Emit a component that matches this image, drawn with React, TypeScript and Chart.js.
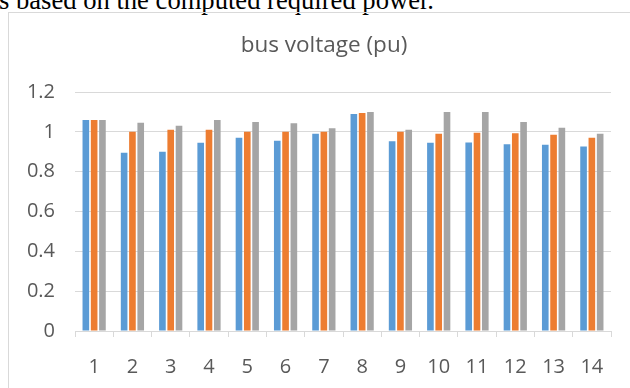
import React, { useEffect, useRef } from "react";
import { Chart, registerables } from "chart.js";

Chart.register(...registerables);

const categories = ["1", "2", "3", "4", "5", "6", "7", "8", "9", "10", "11", "12", "13", "14"];
const seriesBlue = [1.06, 0.895, 0.9, 0.945, 0.97, 0.955, 0.99, 1.09, 0.953, 0.945, 0.947, 0.938, 0.935, 0.926];
const seriesOrange = [1.06, 1.0, 1.01, 1.01, 1.0, 1.0, 1.0, 1.095, 1.0, 0.99, 0.995, 0.993, 0.985, 0.97];
const seriesGray = [1.06, 1.045, 1.03, 1.06, 1.05, 1.043, 1.018, 1.1, 1.01, 1.1, 1.1, 1.05, 1.02, 0.99];
const yMin = 0;
const yMax = 1.2;
const yStep = 0.2;
const titleText = "bus voltage (pu)";
const bodyText = "s based on the computed required power.";

const FONT = "'Open Sans', 'Liberation Sans', sans-serif";
const TEXT_COLOR = "#595959";
const GRID_COLOR = "#d9d9d9";

export default function App() {
  const canvasRef = useRef<HTMLCanvasElement | null>(null);

  useEffect(() => {
    const canvas = canvasRef.current;
    if (!canvas) return;
    const chart = new Chart(canvas, {
      type: "bar",
      data: {
        labels: categories,
        datasets: [
          { label: "s1", data: seriesBlue, backgroundColor: "#5b9bd5" },
          { label: "s2", data: seriesOrange, backgroundColor: "#ed7d31" },
          { label: "s3", data: seriesGray, backgroundColor: "#a5a5a5" },
        ],
      },
      options: {
        responsive: false,
        animation: false,
        devicePixelRatio: 1,
        layout: { padding: { left: 0, right: 28, top: 79, bottom: 6 } },
        datasets: {
          bar: { categoryPercentage: 0.65, barPercentage: 0.8 },
        },
        plugins: {
          legend: { display: false },
          tooltip: { enabled: false },
          title: { display: false },
        },
        scales: {
          x: {
            grid: {
              offset: true,
              drawOnChartArea: false,
              drawTicks: true,
              tickLength: 6,
              color: GRID_COLOR,
              lineWidth: 1,
            },
            border: { color: GRID_COLOR, width: 1 },
            ticks: {
              color: TEXT_COLOR,
              font: { family: FONT, size: 20 },
              padding: 18,
              maxRotation: 0,
              autoSkip: false,
            },
          },
          y: {
            min: yMin,
            max: yMax,
            afterFit: (scale: any) => {
              scale.width = 66;
            },
            grid: { color: GRID_COLOR, lineWidth: 1, drawTicks: false },
            border: { display: false },
            ticks: {
              stepSize: yStep,
              color: TEXT_COLOR,
              font: { family: FONT, size: 20 },
              padding: 20,
              callback: (v: any) => String(Number(Number(v).toFixed(1))),
            },
          },
        },
      },
    });
    return () => chart.destroy();
  }, []);

  return (
    <div style={{ position: "absolute", left: 0, top: 0, width: 630, height: 388, overflow: "hidden", background: "#fff" }}>
      <div
        style={{
          position: "absolute",
          left: -1,
          top: -13,
          fontFamily: "'Liberation Serif', 'Times New Roman', serif",
          fontSize: 26.6,
          lineHeight: "26.6px",
          whiteSpace: "nowrap",
          color: "#000",
        }}
      >
        {bodyText}
      </div>
      <div
        style={{
          position: "absolute",
          left: 8,
          top: 12,
          width: 640,
          height: 400,
          border: `1px solid ${GRID_COLOR}`,
          boxSizing: "border-box",
        }}
      />
      <canvas
        ref={canvasRef}
        width={630}
        height={390}
        style={{ position: "absolute", left: 9, top: 13, width: 630, height: 390 }}
      />
      <div
        style={{
          position: "absolute",
          left: 8,
          top: 32.5,
          width: 632,
          textAlign: "center",
          fontFamily: FONT,
          fontSize: 22.5,
          lineHeight: "22.5px",
          color: TEXT_COLOR,
          whiteSpace: "nowrap",
        }}
      >
        {titleText}
      </div>
    </div>
  );
}
